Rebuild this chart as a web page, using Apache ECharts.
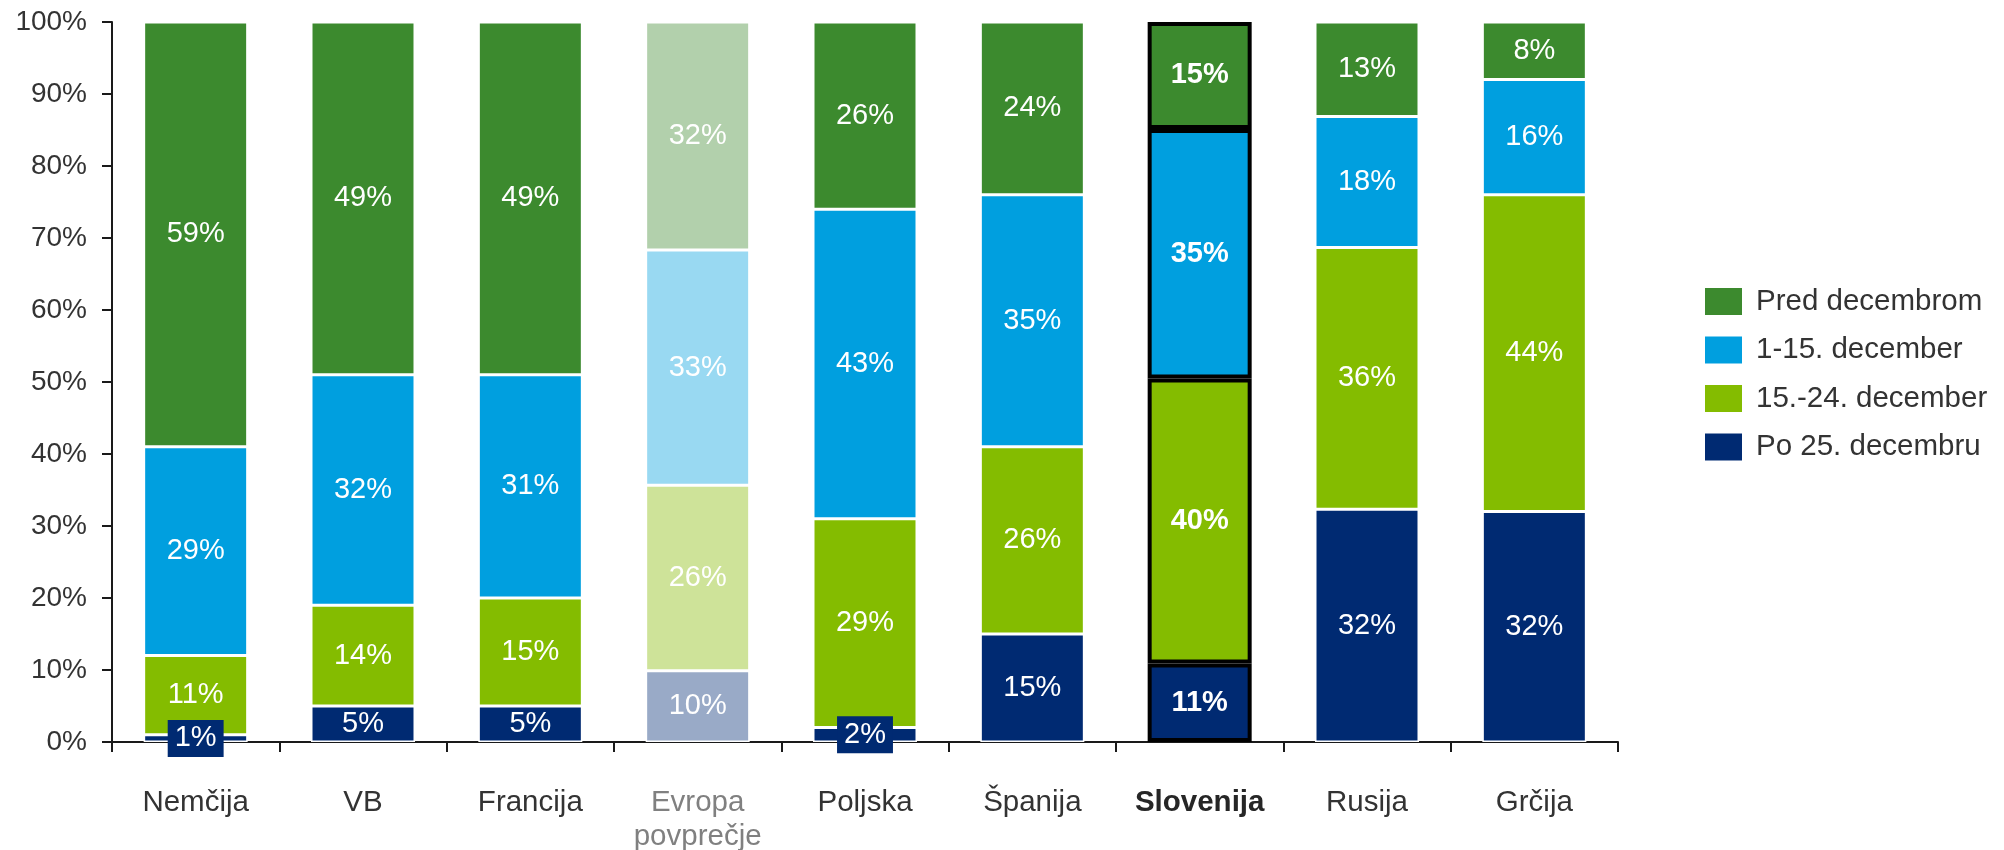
<!DOCTYPE html>
<html>
<head>
<meta charset="utf-8">
<script src="https://cdn.jsdelivr.net/npm/echarts@6/dist/echarts.min.js"></script>
<style>
  html, body { margin: 0; padding: 0; background: #ffffff; }
  #chart { width: 2004px; height: 850px; }
</style>
</head>
<body>
<div id="chart"></div>
<script>
// Kdaj kupujemo božična darila – deleži po državah
const categories = ['Nemčija', 'VB', 'Francija', 'Evropa\npovprečje', 'Poljska', 'Španija', 'Slovenija', 'Rusija', 'Grčija'];
const seriesNames = ['Po 25. decembru', '15.-24. december', '1-15. december', 'Pred decembrom'];

// values per category (percent, as labelled)
const po25December = [1, 5, 5, 10, 2, 15, 11, 32, 32];
const december15to24 = [11, 14, 15, 26, 29, 26, 40, 36, 44];
const december1to15 = [29, 32, 31, 33, 43, 35, 35, 18, 16];
const predDecembrom = [59, 49, 49, 32, 26, 24, 15, 13, 8];

const yTickValues = [0, 10, 20, 30, 40, 50, 60, 70, 80, 90, 100];

const seriesValues = [po25December, december15to24, december1to15, predDecembrom];
const colors = ['#002a72', '#84bc00', '#009fdf', '#3c8a2e'];
const fadedColors = ['#99aac7', '#cee399', '#99d9f2', '#b2d0ac'];

const averageIndex = categories.indexOf('Evropa\npovprečje');
const highlightIndex = categories.indexOf('Slovenija');

const FONT = 'Liberation Sans, Arial, sans-serif';

// 100 % stacked columns: each value is shown as its share of the column total
const totals = categories.map((_, i) => seriesValues.reduce((s, arr) => s + arr[i], 0));

const series = seriesNames.map((name, si) => ({
  name: name,
  type: 'bar',
  stack: 'total',
  barWidth: 104,
  itemStyle: { color: colors[si], borderColor: '#ffffff', borderWidth: 1.5 },
  label: {
    show: true,
    position: 'inside',
    color: '#ffffff',
    fontSize: 29,
    fontFamily: FONT,
    formatter: p => p.data.raw + '%'
  },
  data: seriesValues[si].map((v, i) => {
    const item = { value: v / totals[i] * 100, raw: v };
    if (i === averageIndex) {
      item.itemStyle = { color: fadedColors[si] };
    }
    if (i === highlightIndex) {
      item.itemStyle = { borderColor: '#000000', borderWidth: 4 };
      item.label = { fontWeight: 'bold' };
    }
    if (v < 3) {
      // tiny segment: value shown on a solid tag
      item.label = { backgroundColor: colors[si], padding: [5, 7, 3, 7] };
    }
    return item;
  })
}));

const chart = echarts.init(document.getElementById('chart'), null, { renderer: 'canvas' });
chart.setOption({
  animation: false,
  backgroundColor: '#ffffff',
  textStyle: { fontFamily: FONT },
  grid: { left: 112, right: 386, top: 22, bottom: 108, containLabel: false, outerBoundsMode: 'none' },
  legend: {
    orient: 'vertical',
    left: 1703,
    top: 286,
    padding: 0,
    icon: 'rect',
    itemWidth: 39,
    itemHeight: 29,
    itemGap: 17.5,
    data: seriesNames.slice().reverse(),
    textStyle: { fontSize: 29.5, color: '#333333', lineHeight: 29, padding: [0, 0, 0, 8] },
    selectedMode: false
  },
  xAxis: {
    type: 'category',
    data: categories,
    axisLine: { lineStyle: { color: '#1a1a1a', width: 2 } },
    axisTick: { show: true, length: 10, lineStyle: { color: '#1a1a1a', width: 2 } },
    axisLabel: {
      interval: 0,
      margin: 44,
      fontSize: 29.5,
      color: '#333333',
      lineHeight: 34,
      formatter: (v, i) => {
        if (i === highlightIndex) return '{b|' + v + '}';
        if (i === averageIndex) return v.split('\n').map(s => '{g|' + s + '}').join('\n');
        return v;
      },
      rich: {
        b: { fontSize: 29.5, fontWeight: 'bold', color: '#262626', lineHeight: 34 },
        g: { fontSize: 29.5, color: '#808080', lineHeight: 34 }
      }
    }
  },
  yAxis: {
    type: 'value',
    min: yTickValues[0],
    max: yTickValues[yTickValues.length - 1],
    interval: 10,
    axisLine: { show: true, lineStyle: { color: '#1a1a1a', width: 2 } },
    axisTick: { show: true, length: 10, lineStyle: { color: '#1a1a1a', width: 2 } },
    splitLine: { show: false },
    axisLabel: { fontSize: 28, color: '#333333', margin: 25, formatter: '{value}%' }
  },
  series: series
});
</script>
</body>
</html>
